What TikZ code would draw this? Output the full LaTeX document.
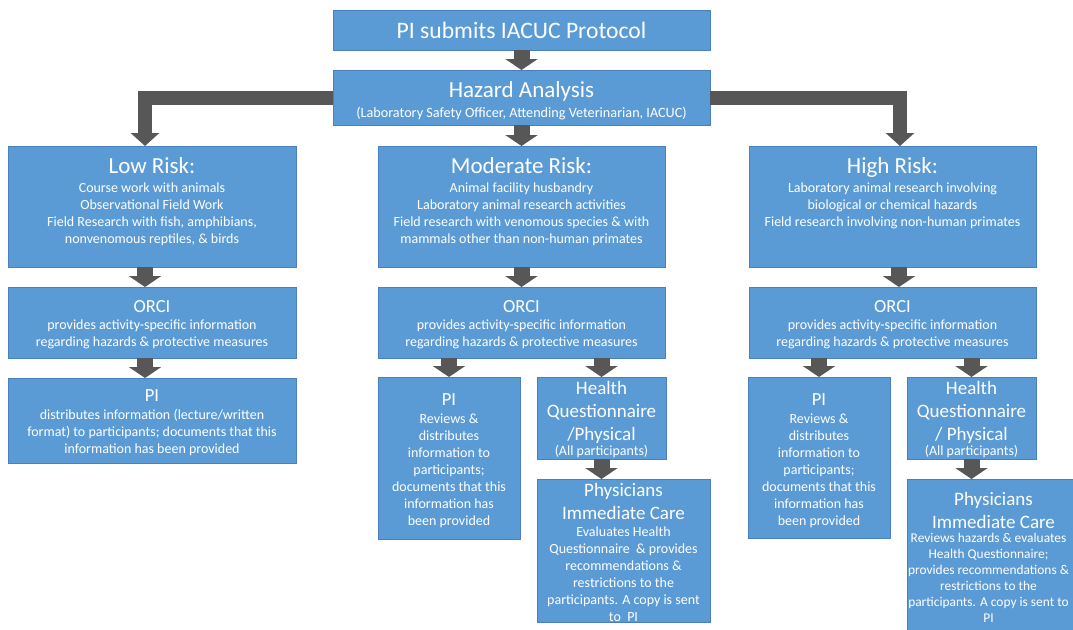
\documentclass[tikz,border=0pt]{standalone}
\usepackage{fontspec}
\setmainfont{Carlito}
\usetikzlibrary{arrows.meta}
\definecolor{boxblue}{HTML}{5B9BD5}
\definecolor{boxedge}{HTML}{4A80BE}
\definecolor{arrgray}{HTML}{575757}
\newcommand{\bodyfont}{\fontsize{14}{17}\selectfont}
\newcommand{\headfont}{\fontsize{23}{27}\selectfont}
\newcommand{\midfont}{\fontsize{18.5}{22}\selectfont}
\newcommand{\hqfont}{\fontsize{19}{23}\selectfont}
\tikzset{
  box/.style={fill=boxblue, draw=boxedge, line width=0.8pt, inner sep=0pt, outer sep=0pt, anchor=north west},
  tx/.style={text=white, inner sep=0pt, outer sep=0pt, align=center},
  arr/.style={draw=arrgray, line width=16pt, -{Triangle[length=11pt,width=32pt]}},
  elb/.style={draw=arrgray, line width=14pt, line join=miter, -{Triangle[length=13pt,width=28pt]}},
}
\begin{document}
\begin{tikzpicture}[x=1pt,y=-1pt]
\useasboundingbox (0,0) rectangle (1073,629);
\clip (0,0) rectangle (1073,629);
% boxes
\node[box, minimum width=377, minimum height=40] (top) at (333,10) {};
\node[box, minimum width=377, minimum height=55] (haz) at (333,70) {};
\node[box, minimum width=288, minimum height=121] (low) at (8,146) {};
\node[box, minimum width=287, minimum height=121] (mod) at (378,146) {};
\node[box, minimum width=287, minimum height=121] (high) at (749,146) {};
\node[box, minimum width=288, minimum height=71] (lorci) at (8,287) {};
\node[box, minimum width=287, minimum height=71] (morci) at (378,287) {};
\node[box, minimum width=287, minimum height=71] (horci) at (749,287) {};
\node[box, minimum width=288, minimum height=85] (lpi) at (8,378) {};
\node[box, minimum width=142, minimum height=162] (mpi) at (378,377) {};
\node[box, minimum width=129, minimum height=82] (mhq) at (537,377) {};
\node[box, minimum width=173, minimum height=143] (mpc) at (537,479) {};
\node[box, minimum width=142, minimum height=161] (hpi) at (748,377) {};
\node[box, minimum width=129, minimum height=82] (hhq) at (907,377) {};
\node[box, minimum width=173, minimum height=165] (hpc) at (907,479) {};
% arrows
\draw[arr] (top.south) -- (haz.north);
\draw[arr] (haz.south) -- (haz.south |- mod.north);
\draw[elb] (haz.west) -| ([xshift=-7pt]low.north);
\draw[elb] (haz.east) -| ([xshift=7.5pt]high.north);
\draw[arr] ([xshift=-7pt]low.south) -- ([xshift=-7pt]lorci.north);
\draw[arr] (mod.south) -- (morci.north);
\draw[arr] ([xshift=6.5pt]high.south) -- ([xshift=6.5pt]horci.north);
\draw[arr] ([xshift=-7pt]lorci.south) -- ([xshift=-7pt]lpi.north);
\draw[arr] (mpi.north |- morci.south) -- (mpi.north);
\draw[arr] (mhq.north |- morci.south) -- (mhq.north);
\draw[arr] (hpi.north |- horci.south) -- (hpi.north);
\draw[arr] (hhq.north |- horci.south) -- (hhq.north);
\draw[arr] (mhq.south) -- (mhq.south |- mpc.north);
\draw[arr] (hhq.south) -- (hhq.south |- hpc.north);
% texts
\node[tx, anchor=base, font=\fontsize{23.6}{27}\selectfont] (ttop) at ([yshift=-28pt]top.north) {PI submits IACUC Protocol};
\node[tx, anchor=base, font=\headfont] (thaz) at ([yshift=-27pt]haz.north) {Hazard Analysis};
\node[tx, anchor=base, font=\fontsize{14.2}{16}\selectfont] (thaz2) at ([yshift=-47pt]haz.north) {(Laboratory Safety Officer, Attending Veterinarian, IACUC)};

\node[tx, anchor=base, font=\headfont] (tlow) at ([yshift=-27pt]low.north) {Low Risk:};
\node[tx, anchor=north, font=\bodyfont] (tlowb) at ([yshift=-36.5pt]low.north) {Course work with animals\\Observational Field Work\\Field Research with fish, amphibians,\\nonvenomous reptiles, \& birds};
\node[tx, anchor=base, font=\headfont] (tmod) at ([yshift=-27pt]mod.north) {Moderate Risk:};
\node[tx, anchor=north, font=\bodyfont] (tmodb) at ([yshift=-37pt]mod.north) {Animal facility husbandry\\Laboratory animal research activities\\Field research with venomous species \& with\\mammals other than non-human primates};
\node[tx, anchor=base, font=\headfont] (thigh) at ([yshift=-27pt]high.north) {High Risk:};
\node[tx, anchor=north, font=\bodyfont] (thighb) at ([yshift=-36.5pt]high.north) {Laboratory animal research involving\\biological or chemical hazards\\Field research involving non-human primates};

\node[tx, anchor=base, font=\midfont] (tlo) at ([yshift=-25pt]lorci.north) {ORCI};
\node[tx, anchor=north, font=\bodyfont] (tlob) at ([yshift=-32.5pt]lorci.north) {provides activity-specific information\\regarding hazards \& protective measures};
\node[tx, anchor=base, font=\midfont] (tmo) at ([yshift=-25pt]morci.north) {ORCI};
\node[tx, anchor=north, font=\bodyfont] (tmob) at ([yshift=-32.5pt]morci.north) {provides activity-specific information\\regarding hazards \& protective measures};
\node[tx, anchor=base, font=\midfont] (tho) at ([yshift=-25pt]horci.north) {ORCI};
\node[tx, anchor=north, font=\bodyfont] (thob) at ([yshift=-32.5pt]horci.north) {provides activity-specific information\\regarding hazards \& protective measures};

\node[tx, anchor=base, font=\midfont] (tlp) at ([yshift=-23pt]lpi.north) {PI};
\node[tx, anchor=north, font=\bodyfont] (tlpb) at ([yshift=-31.5pt]lpi.north) {distributes information (lecture/written\\format) to participants; documents that this\\information has been provided};

\node[tx, anchor=base, font=\midfont] (tmp) at ([yshift=-28pt]mpi.north) {PI};
\node[tx, anchor=north, font=\bodyfont] (tmpb) at ([yshift=-36.5pt]mpi.north) {Reviews \&\\distributes\\information to\\participants;\\documents that this\\information has\\been provided};
\node[tx, anchor=base, font=\midfont] (thp) at ([yshift=-28pt]hpi.north) {PI};
\node[tx, anchor=north, font=\bodyfont] (thpb) at ([yshift=-36.5pt]hpi.north) {Reviews \&\\distributes\\information to\\participants;\\documents that this\\information has\\been provided};

\node[tx, anchor=north, font=\hqfont] (tmh) at ([yshift=-4pt]mhq.north) {Health\\Questionnaire\\/Physical};
\node[tx, anchor=base, font=\bodyfont] (tmh2) at ([yshift=-78pt]mhq.north) {(All participants)};
\node[tx, anchor=north, font=\hqfont] (thh) at ([yshift=-4pt]hhq.north) {Health\\Questionnaire\\/ Physical};
\node[tx, anchor=base, font=\bodyfont] (thh2) at ([yshift=-78pt]hhq.north) {(All participants)};

\node[tx, anchor=north, font=\hqfont] (tmc) at ([yshift=-4pt]mpc.north) {Physicians\\Immediate Care};
\node[tx, anchor=north, font=\bodyfont] (tmcb) at ([yshift=-47.5pt]mpc.north) {Evaluates Health\\Questionnaire\ \ \& provides\\recommendations \&\\restrictions to the\\participants. A copy is sent\\to\ \ PI};
\node[tx, anchor=north, font=\fontsize{19}{23.5}\selectfont] (thc) at ([yshift=-13pt]hpc.north) {Physicians\\Immediate Care};
\node[tx, anchor=north, font=\fontsize{13.4}{16}\selectfont] (thcb) at ([xshift=-5pt,yshift=-54.5pt]hpc.north) {Reviews hazards \& evaluates\\Health Questionnaire;\\provides recommendations \&\\restrictions to the\\participants. A copy is sent to\\PI};
\end{tikzpicture}
\end{document}
